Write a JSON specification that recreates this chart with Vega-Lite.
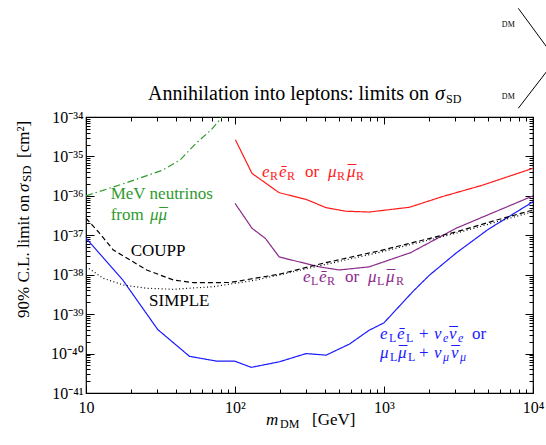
{
  "$schema": "https://vega.github.io/schema/vega-lite/v6.json",
  "width": 447,
  "height": 276,
  "autosize": "none",
  "padding": {"left": 86, "top": 117, "right": 13, "bottom": 52},
  "background": "white",
  "config": {
    "view": {"stroke": "black", "strokeWidth": 1.2},
    "font": "Liberation Serif",
    "axis": {"domain": false, "grid": false, "tickColor": "black", "tickWidth": 1, "labelColor": "black", "labelFont": "Liberation Serif", "labelFontSize": 16, "labelFlush": false, "labelOverlap": false, "labelBound": false, "title": null}
  },
  "datasets": {
    "lines": [
      {"s": "mev", "m": 10, "v": 1.0e-36},
      {"s": "mev", "m": 19.6, "v": 2.29e-36},
      {"s": "mev", "m": 32.6, "v": 4.47e-36},
      {"s": "mev", "m": 42.8, "v": 8.13e-36},
      {"s": "mev", "m": 55, "v": 2.19e-35},
      {"s": "mev", "m": 69, "v": 4.68e-35},
      {"s": "mev", "m": 80.7, "v": 9.33e-35},
      {"s": "mev", "m": 86, "v": 1.4e-34},
      {"s": "RR", "m": 100.7, "v": 2.63e-35},
      {"s": "RR", "m": 130, "v": 3.72e-36},
      {"s": "RR", "m": 198, "v": 1.20e-36},
      {"s": "RR", "m": 300, "v": 8.13e-37},
      {"s": "RR", "m": 409, "v": 5.01e-37},
      {"s": "RR", "m": 557, "v": 4.07e-37},
      {"s": "RR", "m": 794, "v": 3.89e-37},
      {"s": "RR", "m": 1480, "v": 5.13e-37},
      {"s": "RR", "m": 2460, "v": 9.55e-37},
      {"s": "RR", "m": 4570, "v": 1.86e-36},
      {"s": "RR", "m": 10000, "v": 5.01e-36},
      {"s": "LR", "m": 100, "v": 6.46e-37},
      {"s": "LR", "m": 130, "v": 1.51e-37},
      {"s": "LR", "m": 160, "v": 8.32e-38},
      {"s": "LR", "m": 198, "v": 2.82e-38},
      {"s": "LR", "m": 369, "v": 1.58e-38},
      {"s": "LR", "m": 500, "v": 1.32e-38},
      {"s": "LR", "m": 794, "v": 1.58e-38},
      {"s": "LR", "m": 1510, "v": 3.63e-38},
      {"s": "LR", "m": 3050, "v": 1.51e-37},
      {"s": "LR", "m": 10000, "v": 1.0e-36},
      {"s": "LL", "m": 10, "v": 8.5e-38},
      {"s": "LL", "m": 17.7, "v": 7.24e-39},
      {"s": "LL", "m": 30.3, "v": 4.07e-40},
      {"s": "LL", "m": 49.5, "v": 8.51e-41},
      {"s": "LL", "m": 74.8, "v": 6.46e-41},
      {"s": "LL", "m": 99.3, "v": 6.46e-41},
      {"s": "LL", "m": 128.5, "v": 4.47e-41},
      {"s": "LL", "m": 198, "v": 6.17e-41},
      {"s": "LL", "m": 300, "v": 1.0e-40},
      {"s": "LL", "m": 409, "v": 9.12e-41},
      {"s": "LL", "m": 586, "v": 1.74e-40},
      {"s": "LL", "m": 794, "v": 3.89e-40},
      {"s": "LL", "m": 1000, "v": 6.03e-40},
      {"s": "LL", "m": 1560, "v": 3.72e-39},
      {"s": "LL", "m": 2020, "v": 9.77e-39},
      {"s": "LL", "m": 3050, "v": 3.55e-38},
      {"s": "LL", "m": 5000, "v": 1.41e-37},
      {"s": "LL", "m": 10000, "v": 7.08e-37},
      {"s": "COUPP", "m": 10, "v": 2.70e-37},
      {"s": "COUPP", "m": 12.09, "v": 1.23e-37},
      {"s": "COUPP", "m": 15.25, "v": 4.24e-38},
      {"s": "COUPP", "m": 25.55, "v": 1.32e-38},
      {"s": "COUPP", "m": 38.54, "v": 7.35e-39},
      {"s": "COUPP", "m": 52.5, "v": 6.28e-39},
      {"s": "COUPP", "m": 92.5, "v": 6.35e-39},
      {"s": "COUPP", "m": 200.4, "v": 1.04e-38},
      {"s": "COUPP", "m": 372, "v": 1.87e-38},
      {"s": "COUPP", "m": 940, "v": 4.07e-38},
      {"s": "COUPP", "m": 3075, "v": 1.23e-37},
      {"s": "COUPP", "m": 5705, "v": 2.44e-37},
      {"s": "COUPP", "m": 10000, "v": 4.38e-37},
      {"s": "SIMPLE", "m": 10, "v": 1.60e-38},
      {"s": "SIMPLE", "m": 13.07, "v": 8.11e-39},
      {"s": "SIMPLE", "m": 17.8, "v": 5.48e-39},
      {"s": "SIMPLE", "m": 25.55, "v": 4.53e-39},
      {"s": "SIMPLE", "m": 38.54, "v": 4.27e-39},
      {"s": "SIMPLE", "m": 71.5, "v": 4.97e-39},
      {"s": "SIMPLE", "m": 139.8, "v": 7.35e-39},
      {"s": "SIMPLE", "m": 372, "v": 1.69e-38},
      {"s": "SIMPLE", "m": 940, "v": 3.71e-38},
      {"s": "SIMPLE", "m": 3075, "v": 1.14e-37},
      {"s": "SIMPLE", "m": 10000, "v": 3.96e-37}
    ],
    "dm_lines": [
      {"x": 7966, "y": 5.71e-32, "x2": 12319, "y2": 6.07e-33},
      {"x": 12319, "y": 1.41e-33, "x2": 7966, "y2": 1.664e-34}
    ],
    "t_up": [
      {"x": 14.65, "y": 8.09e-37, "t": "MeV neutrinos", "s": "mev"},
      {"x": 14.65, "y": 2.51e-37, "t": "from", "s": "mev"},
      {"x": 19.95, "y": 2.90e-38, "t": "COUPP", "s": "COUPP"},
      {"x": 26.48, "y": 1.61e-39, "t": "SIMPLE", "s": "SIMPLE"},
      {"x": 295.0, "y": 2.96e-36, "t": "or", "s": "RR"},
      {"x": 547.4, "y": 6.35e-39, "t": "or", "s": "LR"},
      {"x": 1717.4, "y": 2.277e-40, "t": "+", "s": "LL"},
      {"x": 3896.6, "y": 2.277e-40, "t": "or", "s": "LL"},
      {"x": 1717.4, "y": 7.73e-41, "t": "+", "s": "LL"},
      {"x": 328.7, "y": 1.545e-42, "t": "[GeV]", "s": "axis"}
    ],
    "t_it": [
      {"x": 26.89, "y": 2.51e-37, "t": "μ", "s": "mev"},
      {"x": 30.66, "y": 2.51e-37, "t": "μ", "s": "mev"},
      {"x": 151.8, "y": 2.96e-36, "t": "e", "s": "RR"},
      {"x": 197.4, "y": 2.96e-36, "t": "ē", "s": "RR"},
      {"x": 421.0, "y": 2.96e-36, "t": "μ", "s": "RR"},
      {"x": 564.6, "y": 2.96e-36, "t": "μ", "s": "RR"},
      {"x": 286.0, "y": 6.35e-39, "t": "e", "s": "LR"},
      {"x": 366.3, "y": 6.35e-39, "t": "ē", "s": "LR"},
      {"x": 780.9, "y": 6.35e-39, "t": "μ", "s": "LR"},
      {"x": 1031.3, "y": 6.35e-39, "t": "μ", "s": "LR"},
      {"x": 940.2, "y": 2.277e-40, "t": "e", "s": "LL"},
      {"x": 1222.4, "y": 2.277e-40, "t": "ē", "s": "LL"},
      {"x": 2166.1, "y": 2.277e-40, "t": "ν", "s": "LL"},
      {"x": 2731.5, "y": 2.277e-40, "t": "ν", "s": "LL"},
      {"x": 940.2, "y": 7.73e-41, "t": "μ", "s": "LL"},
      {"x": 1241.6, "y": 7.73e-41, "t": "μ", "s": "LL"},
      {"x": 2166.1, "y": 7.73e-41, "t": "ν", "s": "LL"},
      {"x": 2817.6, "y": 7.73e-41, "t": "ν", "s": "LL"},
      {"x": 161.5, "y": 1.545e-42, "t": "m", "s": "axis"}
    ],
    "t_bar": [
      {"x": 33.12, "y": 2.51e-37, "t": "¯", "s": "mev"},
      {"x": 609.9, "y": 2.96e-36, "t": "¯", "s": "RR"},
      {"x": 1114, "y": 6.35e-39, "t": "¯", "s": "LR"},
      {"x": 2927, "y": 2.277e-40, "t": "¯", "s": "LL"},
      {"x": 1341, "y": 7.73e-41, "t": "¯", "s": "LL"},
      {"x": 3019, "y": 7.73e-41, "t": "¯", "s": "LL"}
    ],
    "t_sub": [
      {"x": 171.8, "y": 2.52e-36, "t": "R", "s": "RR"},
      {"x": 223.4, "y": 2.52e-36, "t": "R", "s": "RR"},
      {"x": 483.8, "y": 2.52e-36, "t": "R", "s": "RR"},
      {"x": 648.9, "y": 2.52e-36, "t": "R", "s": "RR"},
      {"x": 323.6, "y": 5.33e-39, "t": "L", "s": "LR"},
      {"x": 414.5, "y": 5.33e-39, "t": "R", "s": "LR"},
      {"x": 897.4, "y": 5.33e-39, "t": "L", "s": "LR"},
      {"x": 1203.6, "y": 5.33e-39, "t": "R", "s": "LR"},
      {"x": 1080.3, "y": 1.91e-40, "t": "L", "s": "LL"},
      {"x": 1405.2, "y": 1.91e-40, "t": "L", "s": "LL"},
      {"x": 1097.3, "y": 6.49e-41, "t": "L", "s": "LL"},
      {"x": 1449.6, "y": 6.49e-41, "t": "L", "s": "LL"},
      {"x": 200.5, "y": 1.297e-42, "t": "DM", "s": "axis"}
    ],
    "t_subit": [
      {"x": 2488.8, "y": 1.91e-40, "t": "e", "s": "LL"},
      {"x": 3138.3, "y": 1.91e-40, "t": "e", "s": "LL"},
      {"x": 2488.8, "y": 6.49e-41, "t": "μ", "s": "LL"},
      {"x": 3237.2, "y": 6.49e-41, "t": "μ", "s": "LL"}
    ],
    "t_title": [{"x": 26.07, "y": 2.70e-34, "t": "Annihilation into leptons: limits on"}],
    "t_title_it": [{"x": 2199, "y": 2.70e-34, "t": "σ"}],
    "t_title_sub": [{"x": 2607, "y": 2.265e-34, "t": "SD"}],
    "t_rot": [
      {"x": 4.144, "y": 7.98e-40, "t": "90% C.L. limit on"},
      {"x": 4.144, "y": 9.12e-36, "t": "[cm²]"}
    ],
    "t_rot_it": [{"x": 4.144, "y": 1.253e-36, "t": "σ"}],
    "t_rot_sub": [{"x": 4.307, "y": 2.25e-36, "t": "SD"}],
    "t_dm": [
      {"x": 6827, "y": 2.153e-32, "t": "DM"},
      {"x": 6827, "y": 3.27e-34, "t": "DM"}
    ]
  },
  "resolve": {"axis": {"x": "independent", "y": "independent"}},
  "layer": [
    {
      "data": {"name": "lines"},
      "mark": {"type": "line", "clip": true, "strokeWidth": 1.2},
      "encoding": {
        "x": {"field": "m", "type": "quantitative", "scale": {"type": "log", "domain": [10, 10000], "nice": false},
          "axis": {"orient": "bottom", "values": [10,20,30,40,50,60,70,80,90,100,200,300,400,500,600,700,800,900,1000,2000,3000,4000,5000,6000,7000,8000,9000,10000],
            "labelExpr": "datum.value==10?'10':datum.value==100?'10²':datum.value==1000?'10³':datum.value==10000?'10⁴':''",
            "tickSize": {"condition": {"test": "indexof([10,100,1000,10000], datum.value) >= 0", "value": -7}, "value": -4},
            "labelPadding": 13, "labelBaseline": "top"}},
        "y": {"field": "v", "type": "quantitative", "scale": {"type": "log", "domain": [1e-41, 1e-34], "nice": false},
          "axis": {"orient": "left", "values": [1e-41,2e-41,3e-41,4e-41,5e-41,6e-41,7e-41,8e-41,9e-41,1e-40,2e-40,3e-40,4e-40,5e-40,6e-40,7e-40,8e-40,9e-40,1e-39,2e-39,3e-39,4e-39,5e-39,6e-39,7e-39,8e-39,9e-39,1e-38,2e-38,3e-38,4e-38,5e-38,6e-38,7e-38,8e-38,9e-38,1e-37,2e-37,3e-37,4e-37,5e-37,6e-37,7e-37,8e-37,9e-37,1e-36,2e-36,3e-36,4e-36,5e-36,6e-36,7e-36,8e-36,9e-36,1e-35,2e-35,3e-35,4e-35,5e-35,6e-35,7e-35,8e-35,9e-35,1e-34],
            "labelExpr": "datum.value==1e-34?'10⁻³⁴':datum.value==1e-35?'10⁻³⁵':datum.value==1e-36?'10⁻³⁶':datum.value==1e-37?'10⁻³⁷':datum.value==1e-38?'10⁻³⁸':datum.value==1e-39?'10⁻³⁹':datum.value==1e-40?'10⁻⁴⁰':datum.value==1e-41?'10⁻⁴¹':''",
            "tickSize": {"condition": {"test": "indexof([1e-41,1e-40,1e-39,1e-38,1e-37,1e-36,1e-35,1e-34], datum.value) >= 0", "value": -8}, "value": -4},
            "labelPadding": 11, "labelBaseline": "middle"}},
        "color": {"field": "s", "type": "nominal", "legend": null,
          "scale": {"domain": ["mev","RR","LR","LL","COUPP","SIMPLE","axis"], "range": ["#2e9a2e","#ff1a1a","#8b2a8b","#1a1aff","#000000","#000000","#000000"]}},
        "strokeDash": {"field": "s", "type": "nominal", "legend": null,
          "scale": {"domain": ["mev","RR","LR","LL","COUPP","SIMPLE"], "range": [[7,3,1.5,3],[1,0],[1,0],[1,0],[5,3],[1,2.5]]}},
        "detail": {"field": "s"}
      }
    },
    {
      "data": {"name": "dm_lines"},
      "mark": {"type": "rule", "clip": false, "color": "black", "strokeWidth": 1},
      "encoding": {
        "x": {"field": "x", "type": "quantitative",
          "axis": {"orient": "top", "labels": false, "values": [10,20,30,40,50,60,70,80,90,100,200,300,400,500,600,700,800,900,1000,2000,3000,4000,5000,6000,7000,8000,9000,10000],
            "tickSize": {"condition": {"test": "indexof([10,100,1000,10000], datum.value) >= 0", "value": -7}, "value": -4}}},
        "x2": {"field": "x2"},
        "y": {"field": "y", "type": "quantitative",
          "axis": {"orient": "right", "labels": false, "values": [1e-41,2e-41,3e-41,4e-41,5e-41,6e-41,7e-41,8e-41,9e-41,1e-40,2e-40,3e-40,4e-40,5e-40,6e-40,7e-40,8e-40,9e-40,1e-39,2e-39,3e-39,4e-39,5e-39,6e-39,7e-39,8e-39,9e-39,1e-38,2e-38,3e-38,4e-38,5e-38,6e-38,7e-38,8e-38,9e-38,1e-37,2e-37,3e-37,4e-37,5e-37,6e-37,7e-37,8e-37,9e-37,1e-36,2e-36,3e-36,4e-36,5e-36,6e-36,7e-36,8e-36,9e-36,1e-35,2e-35,3e-35,4e-35,5e-35,6e-35,7e-35,8e-35,9e-35,1e-34],
            "tickSize": {"condition": {"test": "indexof([1e-41,1e-40,1e-39,1e-38,1e-37,1e-36,1e-35,1e-34], datum.value) >= 0", "value": -8}, "value": -4}}},
        "y2": {"field": "y2"}
      }
    },
    {
      "data": {"name": "t_up"},
      "mark": {"type": "text", "font": "Liberation Serif", "fontSize": 17, "align": "left", "baseline": "alphabetic"},
      "encoding": {
        "x": {"field": "x", "type": "quantitative", "axis": null},
        "y": {"field": "y", "type": "quantitative", "axis": null},
        "text": {"field": "t"},
        "color": {"field": "s", "type": "nominal", "legend": null,
          "scale": {"domain": ["mev","RR","LR","LL","COUPP","SIMPLE","axis"], "range": ["#2e9a2e","#ff1a1a","#8b2a8b","#1a1aff","#000000","#000000","#000000"]}}
      }
    },
    {
      "data": {"name": "t_it"},
      "mark": {"type": "text", "font": "Liberation Serif", "fontSize": 17, "fontStyle": "italic", "align": "left", "baseline": "alphabetic"},
      "encoding": {
        "x": {"field": "x", "type": "quantitative", "axis": null},
        "y": {"field": "y", "type": "quantitative", "axis": null},
        "text": {"field": "t"},
        "color": {"field": "s", "type": "nominal", "legend": null,
          "scale": {"domain": ["mev","RR","LR","LL","COUPP","SIMPLE","axis"], "range": ["#2e9a2e","#ff1a1a","#8b2a8b","#1a1aff","#000000","#000000","#000000"]}}
      }
    },
    {
      "data": {"name": "t_bar"},
      "mark": {"type": "text", "font": "Liberation Serif", "fontSize": 17, "align": "center", "baseline": "alphabetic"},
      "encoding": {
        "x": {"field": "x", "type": "quantitative", "axis": null},
        "y": {"field": "y", "type": "quantitative", "axis": null},
        "text": {"field": "t"},
        "color": {"field": "s", "type": "nominal", "legend": null,
          "scale": {"domain": ["mev","RR","LR","LL","COUPP","SIMPLE","axis"], "range": ["#2e9a2e","#ff1a1a","#8b2a8b","#1a1aff","#000000","#000000","#000000"]}}
      }
    },
    {
      "data": {"name": "t_sub"},
      "mark": {"type": "text", "font": "Liberation Serif", "fontSize": 12, "align": "left", "baseline": "alphabetic"},
      "encoding": {
        "x": {"field": "x", "type": "quantitative", "axis": null},
        "y": {"field": "y", "type": "quantitative", "axis": null},
        "text": {"field": "t"},
        "color": {"field": "s", "type": "nominal", "legend": null,
          "scale": {"domain": ["mev","RR","LR","LL","COUPP","SIMPLE","axis"], "range": ["#2e9a2e","#ff1a1a","#8b2a8b","#1a1aff","#000000","#000000","#000000"]}}
      }
    },
    {
      "data": {"name": "t_subit"},
      "mark": {"type": "text", "font": "Liberation Serif", "fontSize": 12, "fontStyle": "italic", "align": "left", "baseline": "alphabetic"},
      "encoding": {
        "x": {"field": "x", "type": "quantitative", "axis": null},
        "y": {"field": "y", "type": "quantitative", "axis": null},
        "text": {"field": "t"},
        "color": {"field": "s", "type": "nominal", "legend": null,
          "scale": {"domain": ["mev","RR","LR","LL","COUPP","SIMPLE","axis"], "range": ["#2e9a2e","#ff1a1a","#8b2a8b","#1a1aff","#000000","#000000","#000000"]}}
      }
    },
    {
      "data": {"name": "t_title"},
      "mark": {"type": "text", "font": "Liberation Serif", "fontSize": 20, "align": "left", "baseline": "alphabetic", "color": "black"},
      "encoding": {
        "x": {"field": "x", "type": "quantitative", "axis": null},
        "y": {"field": "y", "type": "quantitative", "axis": null},
        "text": {"field": "t"}
      }
    },
    {
      "data": {"name": "t_title_it"},
      "mark": {"type": "text", "font": "Liberation Serif", "fontSize": 20, "fontStyle": "italic", "align": "left", "baseline": "alphabetic", "color": "black"},
      "encoding": {
        "x": {"field": "x", "type": "quantitative", "axis": null},
        "y": {"field": "y", "type": "quantitative", "axis": null},
        "text": {"field": "t"}
      }
    },
    {
      "data": {"name": "t_title_sub"},
      "mark": {"type": "text", "font": "Liberation Serif", "fontSize": 12, "align": "left", "baseline": "alphabetic", "color": "black"},
      "encoding": {
        "x": {"field": "x", "type": "quantitative", "axis": null},
        "y": {"field": "y", "type": "quantitative", "axis": null},
        "text": {"field": "t"}
      }
    },
    {
      "data": {"name": "t_rot"},
      "mark": {"type": "text", "font": "Liberation Serif", "fontSize": 17, "angle": 270, "align": "left", "baseline": "alphabetic", "color": "black"},
      "encoding": {
        "x": {"field": "x", "type": "quantitative", "axis": null},
        "y": {"field": "y", "type": "quantitative", "axis": null},
        "text": {"field": "t"}
      }
    },
    {
      "data": {"name": "t_rot_it"},
      "mark": {"type": "text", "font": "Liberation Serif", "fontSize": 17, "fontStyle": "italic", "angle": 270, "align": "left", "baseline": "alphabetic", "color": "black"},
      "encoding": {
        "x": {"field": "x", "type": "quantitative", "axis": null},
        "y": {"field": "y", "type": "quantitative", "axis": null},
        "text": {"field": "t"}
      }
    },
    {
      "data": {"name": "t_rot_sub"},
      "mark": {"type": "text", "font": "Liberation Serif", "fontSize": 13, "angle": 270, "align": "left", "baseline": "alphabetic", "color": "black"},
      "encoding": {
        "x": {"field": "x", "type": "quantitative", "axis": null},
        "y": {"field": "y", "type": "quantitative", "axis": null},
        "text": {"field": "t"}
      }
    },
    {
      "data": {"name": "t_dm"},
      "mark": {"type": "text", "font": "Liberation Serif", "fontSize": 8, "align": "center", "baseline": "middle", "color": "black"},
      "encoding": {
        "x": {"field": "x", "type": "quantitative", "axis": null},
        "y": {"field": "y", "type": "quantitative", "axis": null},
        "text": {"field": "t"}
      }
    }
  ]
}
